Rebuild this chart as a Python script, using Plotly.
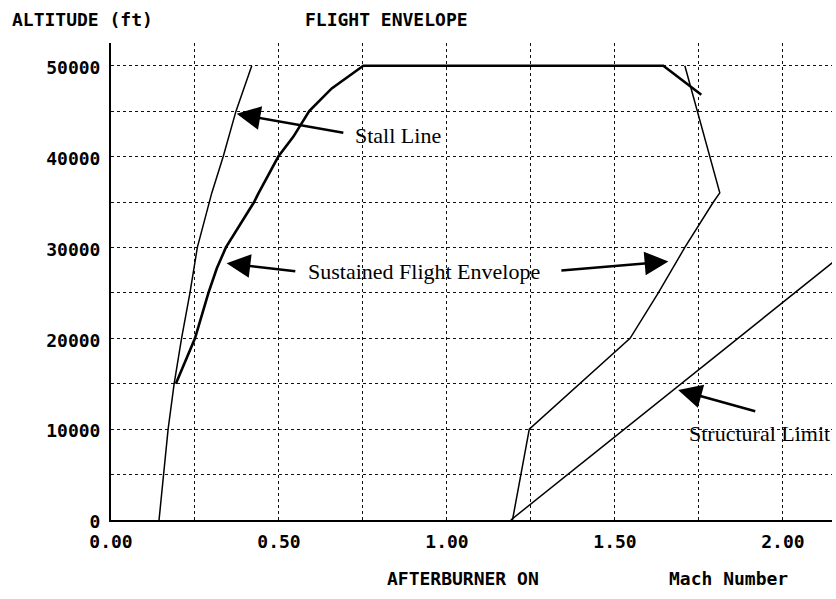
import plotly.graph_objects as go

# Stall line (Mach, altitude ft)
stall_mach = [0.143, 0.156, 0.170, 0.188, 0.210, 0.235, 0.257, 0.300, 0.334, 0.372, 0.419]
stall_alt = [0, 5000, 10000, 15000, 20000, 25000, 30000, 36000, 40000, 45000, 50000]

# Sustained flight envelope, subsonic side and ceiling
env_mach = [0.193, 0.250, 0.290, 0.315, 0.342, 0.426, 0.438, 0.498, 0.543, 0.590, 0.657, 0.751, 1.644, 1.757]
env_alt = [15000, 20000, 25000, 27700, 30000, 35000, 35900, 40000, 42200, 45000, 47500, 50000, 50000, 46800]

# Sustained flight envelope, afterburner side
ab_mach = [1.708, 1.812, 1.793, 1.708, 1.629, 1.545, 1.245, 1.195]
ab_alt = [50000, 36000, 35000, 30000, 25000, 20000, 10000, 0]

# Structural limit
struct_mach = [1.190, 2.150]
struct_alt = [0, 28400]

x_ticks = [0.0, 0.5, 1.0, 1.5, 2.0]
y_ticks = [0, 10000, 20000, 30000, 40000, 50000]

MONO = "DejaVu Sans Mono"
SERIF = "Liberation Serif"

fig = go.Figure()
fig.add_trace(go.Scatter(x=stall_mach, y=stall_alt, mode="lines",
                         line=dict(color="black", width=1.5)))
fig.add_trace(go.Scatter(x=env_mach, y=env_alt, mode="lines",
                         line=dict(color="black", width=2.6)))
fig.add_trace(go.Scatter(x=ab_mach, y=ab_alt, mode="lines",
                         line=dict(color="black", width=1.5)))
fig.add_trace(go.Scatter(x=struct_mach, y=struct_alt, mode="lines",
                         line=dict(color="black", width=1.5)))

grid = dict(showgrid=True, gridcolor="#111111", gridwidth=1, griddash="dot")

fig.update_xaxes(range=[0, 2.146], tickvals=x_ticks, ticktext=[f"{v:.2f}" for v in x_ticks],
                 showline=True, linecolor="black", linewidth=2, zeroline=False,
                 tickfont=dict(family=MONO, size=18, color="black", weight="bold"),
                 ticks="", ticklabelstandoff=4,
                 minor=dict(dtick=0.25, tick0=0, **grid), **grid)
fig.update_yaxes(range=[0, 52500], tickvals=y_ticks, ticktext=[str(v) for v in y_ticks],
                 showline=True, linecolor="black", linewidth=2, zeroline=False,
                 tickfont=dict(family=MONO, size=18, color="black", weight="bold"),
                 ticks="", ticklabelstandoff=5, ticklabelshift=2,
                 minor=dict(dtick=5000, tick0=0, **grid), **grid)

annos = []
# Titles and axis captions
for txt, px, py in [("ALTITUDE (ft)", 10, 19), ("FLIGHT ENVELOPE", 303, 19),
                    ("AFTERBURNER ON", 385, 578), ("Mach Number", 667, 578)]:
    annos.append(dict(text=txt, xref="paper", yref="paper",
                      x=(px - 111) / 721, y=(520 - py) / 477,
                      xanchor="left", yanchor="middle", showarrow=False,
                      font=dict(family=MONO, size=18, color="black", weight="bold")))

# Callout labels
for txt, x, y in [("Stall Line", 0.854, 42300),
                  ("Sustained Flight Envelope", 0.933, 27400),
                  ("Structural Limit", 1.930, 9500)]:
    annos.append(dict(text=txt, x=x, y=y, xref="x", yref="y", showarrow=False,
                      xanchor="center", yanchor="middle",
                      font=dict(family=SERIF, size=22, color="black")))

# Callout arrows (tip, tail)
for tip, tail in [((0.374, 44700), (0.696, 42600)),
                  ((0.344, 28270), (0.553, 27350)),
                  ((1.659, 28450), (1.336, 27460)),
                  ((1.688, 14320), (1.922, 11930))]:
    annos.append(dict(text="", x=tip[0], y=tip[1], ax=tail[0], ay=tail[1],
                      xref="x", yref="y", axref="x", ayref="y",
                      showarrow=True, arrowhead=2, arrowsize=1.9, arrowwidth=2.5,
                      arrowcolor="black", standoff=0, startstandoff=0))

fig.update_layout(width=836, height=599, margin=dict(l=111, r=4, t=43, b=79),
                  paper_bgcolor="white", plot_bgcolor="white", showlegend=False,
                  annotations=annos)

fig.write_html("out.html")
